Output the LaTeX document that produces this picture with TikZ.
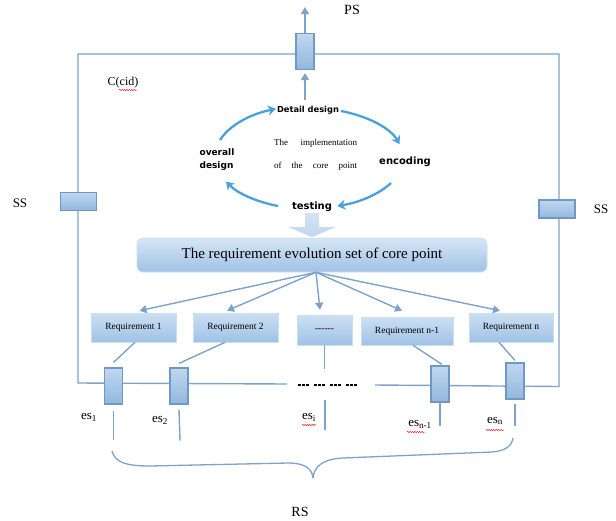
\documentclass[tikz,border=0pt]{standalone}
\usepackage{fontspec}
\setmainfont{Liberation Serif}
\newfontfamily\cycfont{DejaVu Sans}
\usetikzlibrary{arrows.meta,decorations.pathmorphing,calc}

\definecolor{wire}{RGB}{125,163,203}
\definecolor{portedge}{RGB}{112,152,196}
\definecolor{porttop}{RGB}{192,215,239}
\definecolor{portbot}{RGB}{146,183,222}
\definecolor{reqtop}{RGB}{203,223,243}
\definecolor{reqbot}{RGB}{160,194,230}
\definecolor{cyclec}{RGB}{72,160,222}
\definecolor{spell}{RGB}{225,40,40}

\newcommand{\fs}[1]{\fontsize{#1}{#1}\selectfont}
\newcommand{\hy}{-\kern0pt}

\begin{document}
\begin{tikzpicture}[x=1pt,y=-1pt,
  wireline/.style={draw=wire,line width=1.4pt},
  wirearrow/.style={wireline,-{Triangle[length=7pt,width=8pt]}},
  port/.style={draw=portedge,line width=1.2pt,top color=porttop,bottom color=portbot,inner sep=0pt},
  vport/.style={port,minimum width=18pt,minimum height=36pt},
  hport/.style={port,minimum width=36pt,minimum height=18pt},
  reqbox/.style={top color=reqtop,bottom color=reqbot,draw=reqtop,line width=0.6pt,
    inner sep=0pt,minimum height=29pt,font=\fs{9.5}},
  cyclearrow/.style={draw=cyclec,line width=2.3pt,-{Stealth[length=8pt,width=10pt]}},
  cyclabel/.style={inner sep=1pt},
  spellmark/.style={draw=spell,line width=0.5pt,decorate,
    decoration={snake,amplitude=0.7pt,segment length=2.4pt}},
  label/.style={inner sep=0pt},
]
\useasboundingbox (0,0) rectangle (616,520);

% outer frame with a gap in the bottom edge
\coordinate (TL) at (78,54);
\coordinate (TR) at (559,54);
\coordinate (BL) at (78,383);
\coordinate (BR) at (559,386.5);
\coordinate (gapL) at (287,384);
\coordinate (gapR) at (375,385);
\draw[wireline] (gapL) -- (BL) -- (TL) -- (TR) -- (BR) -- (gapR);
\draw[line width=1.3pt,dash pattern=on 3pt off 1.2pt on 3pt off 1.2pt on 3pt off 4.5pt]
  (298,385) -- (357,385);

% ports on the frame
\node[vport] (ps) at (305,51.5) {};
\node[hport] (ssl) at (78.5,201.5) {};
\node[hport] (ssr) at (557,209) {};
\node[vport] (p1) at (113.5,386) {};
\node[vport] (p2) at (179,386) {};
\node[vport] (pn1) at (440,384) {};
\node[vport] (pn) at (515,381) {};

% provided service
\coordinate (psout) at (305,7);
\coordinate (cycletop) at (305,100);
\draw[wirearrow] (ps.north) -- (psout);
\draw[wirearrow,shorten >=3pt] (cycletop) -- (ps.south);

% labels on the frame
\node[label,font=\fs{14}] (pslabel) at (352,10) {PS};
\node[label,font=\fs{12}] (cid) at (123,83) {C(cid)};
\draw[spellmark] (119,90) -- (137,90);
\node[label,font=\fs{13}] (ssllabel) at (20,203) {SS};
\node[label,font=\fs{13}] (ssrlabel) at (601,209) {SS};

% development cycle of the core point
\node[cyclabel,font=\cycfont\bfseries\fs{8.3}] (detail) at (308,110) {Detail design};
\node[cyclabel,font=\cycfont\bfseries\fs{10}] (enc) at (405,162) {encoding};
\node[cyclabel,font=\cycfont\bfseries\fs{10}] (test) at (312,207) {testing};
\node[cyclabel,font=\cycfont\bfseries\fontsize{9}{13}\selectfont,align=left] (overall) at (217,160) {overall\\design};
\node[label,font=\fs{9}] (impl1) at (315.5,143) {\makebox[83pt]{The\hfill implementation}};
\node[label,font=\fs{9}] (impl2) at (315.5,166) {\makebox[83pt]{of\hfill the\hfill core\hfill point}};

\coordinate (a1) at (220,140);
\coordinate (a2) at (341,111);
\coordinate (a3) at (391,183);
\coordinate (a4) at (278,206);
\draw[cyclearrow] (a1) arc[start angle=199,end angle=249.5,x radius=94,y radius=51];
\draw[cyclearrow] (a2) arc[start angle=289.5,end angle=343,x radius=94,y radius=51];
\draw[cyclearrow] (a3) arc[start angle=30.3,end angle=73,x radius=94,y radius=51];
\draw[cyclearrow] (a4) arc[start angle=109.5,end angle=152.5,x radius=94,y radius=51];

% block arrow into the evolution set
\shade[top color=porttop!70!white,bottom color=porttop] (305,213) -- (319,213) -- (319,227) -- (336,227)
  -- (312,237) -- (288,227) -- (305,227) -- cycle;

% evolution set
\node[top color=reqtop!80!white,bottom color=reqbot,draw=reqtop,line width=0.6pt,
  rounded corners=6pt,minimum width=350pt,minimum height=34pt,inner sep=0pt,font=\fs{15}]
  (evo) at (312,255) {The requirement evolution set of core point};

% requirements
\node[reqbox,minimum width=85pt] (r1) at (133.5,327.5) {Requirement 1};
\node[reqbox,minimum width=85pt] (r2) at (235.5,327.5) {Requirement 2};
\node[reqbox,minimum width=55pt,minimum height=30pt] (rd) at (324.5,330) {\hy\hy\hy\hy\hy\hy};
\node[reqbox,minimum width=92pt,minimum height=28pt] (rn1) at (407,331) {Requirement n-1};
\node[reqbox,minimum width=84pt] (rn) at (511,327.5) {Requirement n};

\draw[wirearrow] ([xshift=4pt]evo.south) -- ([xshift=6pt,yshift=2pt]r1.north);
\draw[wirearrow] ([xshift=4pt]evo.south) -- ([xshift=-8.5pt,yshift=2pt]r2.north);
\draw[wirearrow] ([xshift=4pt]evo.south) -- ([xshift=-4.5pt,yshift=5pt]rd.north);
\draw[wirearrow] ([xshift=4pt]evo.south) -- ([xshift=-5pt,yshift=6pt]rn1.north);
\draw[wirearrow] ([xshift=4pt]evo.south) -- ([xshift=-11pt,yshift=2pt]rn.north);

% requirements to evolution-set ports
\coordinate (rdend) at (324.5,369);
\draw[wireline] ([xshift=1.5pt]r1.south) -- ([yshift=5pt]p1.north);
\draw[wireline] ([xshift=-10.5pt]r2.south) -- ([yshift=4pt]p2.north);
\draw[wireline] (rd.south) -- (rdend);
\draw[wireline] ([xshift=6pt]rn1.south) -- ([xshift=2pt,yshift=1pt]pn1.north);
\draw[wireline] ([xshift=-12pt]rn.south) -- ([yshift=2pt]pn.north);

% evolution-set outputs
\coordinate (esitop) at (325,400);
\draw[wireline] ([yshift=-6pt]p1.south) -- ++(0,29);
\draw[wireline] ([yshift=-5pt]p2.south) -- ++(1,31);
\draw[wireline] (esitop) -- ++(0,30);
\draw[wireline] (pn1.south) -- ++(0,23);
\draw[wireline] ([yshift=-4pt]pn.south) -- ++(0,22);

\node[label,font=\fs{13}] (es1) at (89,417) {es\textsubscript{1}};
\node[label,font=\fs{13}] (es2) at (160,420) {es\textsubscript{2}};
\node[label,font=\fs{13}] (esi) at (309,417) {es\textsubscript{i}};
\node[label,font=\fs{13}] (esn1) at (420,424) {es\textsubscript{n-1}};
\node[label,font=\fs{13}] (esn) at (495,421) {es\textsubscript{n}};
\draw[spellmark] (302,425) -- (316,425);
\draw[spellmark] (407,432) -- (425,432);
\draw[spellmark] (486,430) -- (504,430);

% brace gathering the outputs
\draw[wireline,line width=1.3pt] (112,451) .. controls (115,462) and (125,466) .. (150,466)
  -- (288,463) .. controls (304,463) and (312,468) .. (313,478);
\draw[wireline,line width=1.3pt] (313,478) .. controls (314,467) and (322,459) .. (343,458)
  -- (492,452) .. controls (505,451) and (512,446) .. (513,438);
\node[label,font=\fs{14}] (rs) at (300,512) {RS};
\end{tikzpicture}
\end{document}
